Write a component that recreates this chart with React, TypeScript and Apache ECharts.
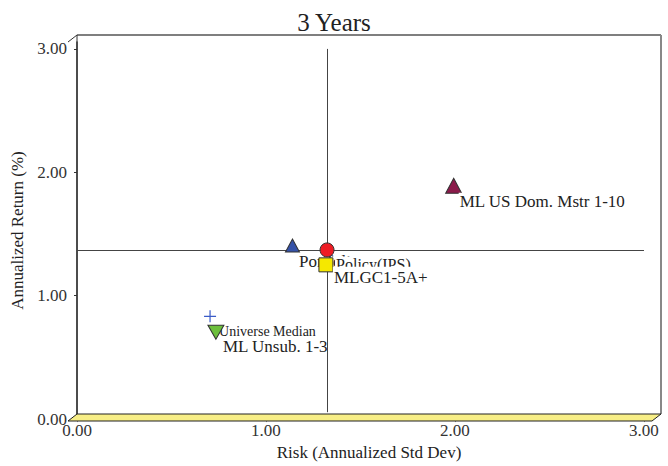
import React, { useEffect, useRef } from "react";
import * as echarts from "echarts";

const names = ["Universe Median", "ML Unsub. 1-3", "ML US Dom. Mstr 1-10", "Portfolio", "Policy(IPS)", "MLGC1-5A+"];
const risk = [0.704, 0.735, 1.993, 1.14, 1.323, 1.317];
const ret = [0.833, 0.704, 1.891, 1.407, 1.371, 1.25];
const xTicks = [0, 1, 2, 3];
const yTicks = [0, 1, 2, 3];
const crossIndex = 4;

const PLUS = "path://M5,0L5,10M0,5L10,5";
const styles = [
  { symbol: PLUS, size: 12, rotate: 0, color: "#3a5bc7", border: "#3a5bc7", off: [8, 15], font: 14, pad: [0, 1] },
  { symbol: "triangle", size: [16, 14], rotate: 180, color: "#6cbf3c", border: "#333", off: [6, 14], font: 17, pad: [0, 1] },
  { symbol: "triangle", size: [16, 15], rotate: 0, color: "#8b1a4a", border: "#333", off: [5, 15.5], font: 17, pad: [0, 1] },
  { symbol: "triangle", size: [14, 13], rotate: 0, color: "#3552a8", border: "#333", off: [5.5, 16], font: 17, pad: [0, 1] },
  { symbol: "circle", size: 14, rotate: 0, color: "#ee1c24", border: "#333", off: [8, 14.5], font: 16, pad: [0, 1] },
  { symbol: "rect", size: 14, rotate: 0, color: "#f5e800", border: "#333", off: [7, 13], font: 17, pad: [5, 1, 0, 1] },
];

const FONT = "Liberation Serif";

export default function App() {
  const ref = useRef<HTMLDivElement>(null);
  useEffect(() => {
    if (!ref.current) return;
    const chart = echarts.init(ref.current, null, { renderer: "svg" });
    const series: any[] = names.map((n, i) => {
      const s = styles[i];
      return {
        type: "scatter",
        name: n,
        z: 2 + i,
        symbol: s.symbol,
        symbolSize: s.size,
        symbolRotate: s.rotate,
        itemStyle: { color: s.color, borderColor: s.border, borderWidth: i === 0 ? 1.2 : 1, opacity: 1 },
        label: {
          show: true,
          formatter: n,
          position: "inside",
          align: "left",
          verticalAlign: "middle",
          offset: s.off,
          fontFamily: FONT,
          fontSize: s.font,
          color: "#222",
          backgroundColor: "#fff",
          padding: s.pad,
        },
        emphasis: { disabled: true },
        data: [[risk[i], ret[i]]],
      };
    });
    series.push({
      type: "scatter",
      z: 20,
      data: [],
      markLine: {
        silent: true,
        symbol: "none",
        label: { show: false },
        lineStyle: { color: "#444", width: 1, type: "solid" },
        data: [
          [{ coord: [risk[crossIndex], 0.056] }, { coord: [risk[crossIndex], 3] }],
          [{ coord: [0, ret[crossIndex]] }, { coord: [3, ret[crossIndex]] }],
        ],
      },
    });
    chart.setOption({
      animation: false,
      backgroundColor: "#fff",
      title: {
        text: "3 Years",
        left: "center",
        top: 5,
        textStyle: { fontFamily: FONT, fontSize: 25, fontWeight: "normal", color: "#222" },
      },
      grid: { left: 77, top: 42, width: 584, height: 379 },
      xAxis: {
        type: "value",
        min: 0,
        max: 3.09,
        name: "Risk (Annualized Std Dev)",
        nameLocation: "middle",
        nameGap: 24,
        nameTextStyle: { fontFamily: FONT, fontSize: 17, color: "#222" },
        axisLine: { show: false },
        axisTick: { show: true, length: 3, customValues: xTicks, lineStyle: { color: "#999" } },
        axisLabel: {
          customValues: xTicks,
          formatter: (v: number) => v.toFixed(2),
          fontFamily: FONT,
          fontSize: 17,
          color: "#333",
          margin: 3,
        },
        splitLine: { show: false },
      },
      yAxis: {
        type: "value",
        min: 0,
        max: 3.056,
        offset: 9,
        name: "Annualized Return (%)",
        nameLocation: "middle",
        nameGap: 38,
        nameTextStyle: { fontFamily: FONT, fontSize: 17, color: "#222" },
        axisLine: { show: true, lineStyle: { color: "#333", width: 1.5 } },
        axisTick: { show: true, length: 3, customValues: yTicks, lineStyle: { color: "#333" } },
        axisLabel: {
          customValues: yTicks,
          formatter: (v: number) => v.toFixed(2),
          fontFamily: FONT,
          fontSize: 17,
          color: "#333",
          margin: 1,
        },
        splitLine: { show: false },
      },
      graphic: [
        { type: "line", z: 1, shape: { x1: 77, y1: 35, x2: 661, y2: 35 }, style: { stroke: "#555", lineWidth: 1.5 } },
        { type: "line", z: 1, shape: { x1: 661, y1: 35, x2: 661, y2: 414 }, style: { stroke: "#888", lineWidth: 2 } },
        { type: "line", z: 1, shape: { x1: 77, y1: 35, x2: 77, y2: 414 }, style: { stroke: "#333", lineWidth: 1 } },
        { type: "line", z: 1, shape: { x1: 68, y1: 42, x2: 77, y2: 35 }, style: { stroke: "#333", lineWidth: 1 } },
        {
          type: "polygon",
          z: 1,
          shape: { points: [[68, 421], [77, 414], [661, 414], [652, 421]] },
          style: { fill: "#f7ee86", stroke: "#222", lineWidth: 1 },
        },
      ],
      series,
    });
    return () => chart.dispose();
  }, []);
  return <div ref={ref} style={{ width: 668, height: 466, position: "absolute", left: 0, top: 0 }} />;
}
